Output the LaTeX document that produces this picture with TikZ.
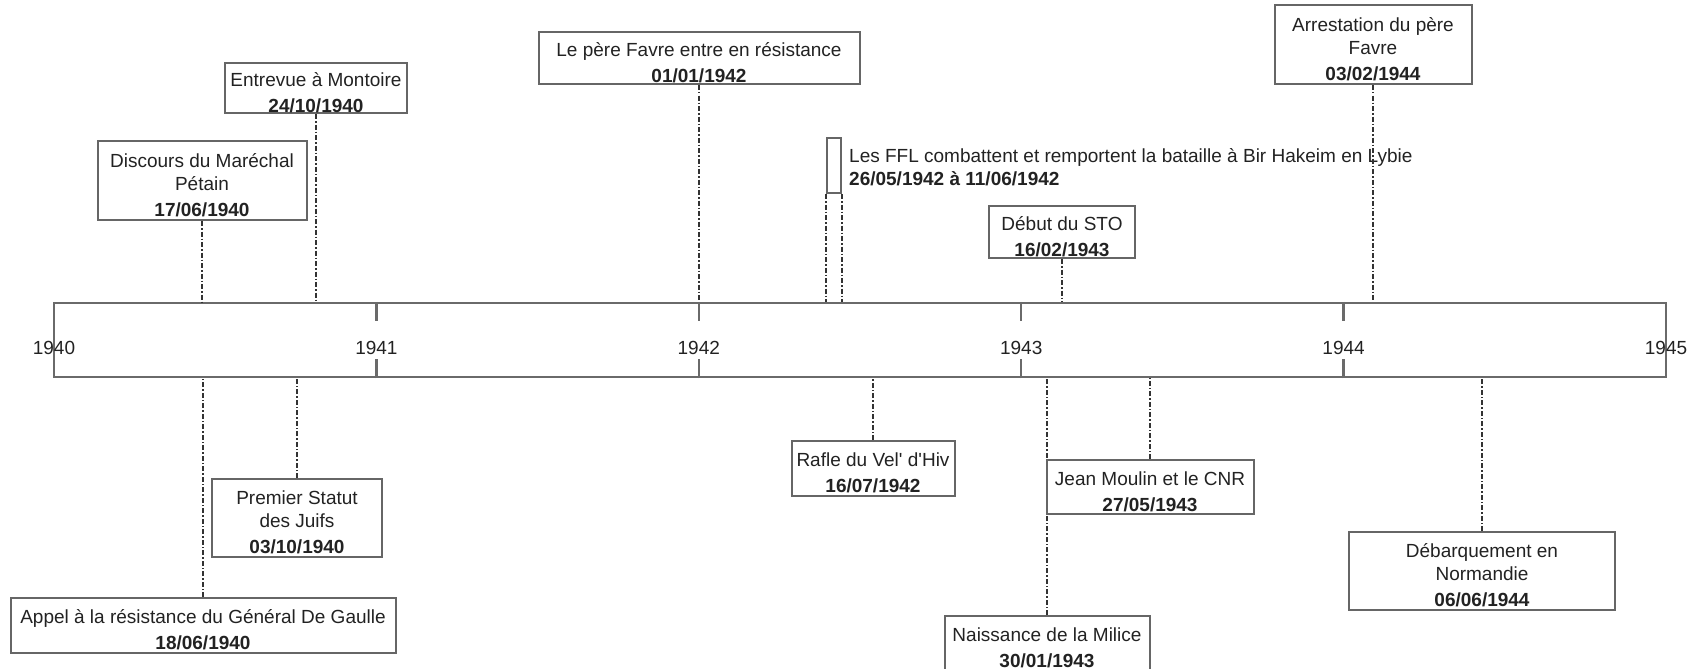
\documentclass[tikz,border=0pt]{standalone}
\usepackage{fontspec}
\setmainfont{Liberation Sans}
\definecolor{boxgray}{HTML}{666666}
\definecolor{axisgray}{HTML}{6A6A6A}
\definecolor{linkdark}{HTML}{333333}
\definecolor{txtdark}{HTML}{222222}
\newcommand\evfont{\fontsize{19pt}{23pt}\selectfont}
\newcommand\evstrut{\rule{0pt}{23pt}}
\tikzset{
  event/.style={draw=boxgray, line width=2pt, align=center, inner xsep=2pt, inner ysep=0pt,
    text=txtdark, font=\evfont},
  link/.style={linkdark, line width=1.5pt, dash pattern=on 5pt off 2pt on 1.5pt off 2pt},
  yeartick/.style={axisgray, line width=2.5pt},
  yearlbl/.style={text=txtdark, font=\evfont, inner sep=0pt}
}

\begin{document}
\begin{tikzpicture}[x=1pt, y=-1pt]
\useasboundingbox (0,0) rectangle (1698,669);

% time axis
\node[draw=axisgray, line width=2.5pt, minimum width=1612pt, minimum height=74pt, inner sep=0pt] (axis) at (860,340) {};
\foreach \yr [count=\i from 0] in {1940,...,1945}
  \node[yearlbl] (y\yr) at (54+322.4*\i,348) {\yr};
\foreach \yr in {1941,...,1944} {
  \draw[yeartick] (y\yr |- axis.north) -- ++(0,19);
  \draw[yeartick] (y\yr |- axis.south) -- ++(0,-19);
}

% ---- events above the axis ----
\node[event, minimum width=209pt, minimum height=79pt] (discours) at (202,180.5)
  {\evstrut Discours du Maréchal\\Pétain\\[3pt]\textbf{17/06/1940}};
\draw[link] (discours.south) -- (discours.south |- axis.north);

\node[event, minimum width=182pt, minimum height=50pt] (montoire) at (316,88)
  {\evstrut Entrevue à Montoire\\[3pt]\textbf{24/10/1940}};
\draw[link] (montoire.south) -- (montoire.south |- axis.north);

\node[event, minimum width=321pt, minimum height=52pt] (favre) at (699,58)
  {\evstrut Le père Favre entre en résistance\\[3pt]\textbf{01/01/1942}};
\draw[link] (favre.south) -- (favre.south |- axis.north);

\node[draw=boxgray, line width=2pt, inner sep=0pt, minimum width=14pt, minimum height=55pt] (ffl) at (834,165.5) {};
\node[anchor=west, align=left, text=txtdark, font=\evfont, inner sep=0pt] (ffltxt) at (849,167)
  {Les FFL combattent et remportent la bataille à Bir Hakeim en Lybie\\\textbf{26/05/1942 à 11/06/1942}};
\draw[link] (ffl.south west) -- (ffl.south west |- axis.north);
\draw[link] (ffl.south east) -- (ffl.south east |- axis.north);

\node[event, minimum width=146pt, minimum height=52pt] (sto) at (1062,232)
  {\evstrut Début du STO\\[3pt]\textbf{16/02/1943}};
\draw[link] (sto.south) -- (sto.south |- axis.north);

\node[event, minimum width=197pt, minimum height=79pt] (arrest) at (1373,44.5)
  {\evstrut Arrestation du père\\Favre\\[3pt]\textbf{03/02/1944}};
\draw[link] (arrest.south) -- (arrest.south |- axis.north);

% ---- events below the axis ----
\node[event, minimum width=385pt, minimum height=55pt] (appel) at (203,625.5)
  {\evstrut Appel à la résistance du Général De Gaulle\\[3pt]\textbf{18/06/1940}};
\draw[link] (appel.north) -- (appel.north |- axis.south);

\node[event, minimum width=170pt, minimum height=78pt] (statut) at (297,518)
  {\evstrut Premier Statut\\des Juifs\\[3pt]\textbf{03/10/1940}};
\draw[link] (statut.north) -- (statut.north |- axis.south);

\node[event, minimum width=163pt, minimum height=55pt] (rafle) at (873,468.5)
  {\evstrut Rafle du Vel\textquotesingle{} d\textquotesingle Hiv\\[3pt]\textbf{16/07/1942}};
\draw[link] (rafle.north) -- (rafle.north |- axis.south);

\node[event, minimum width=205pt, minimum height=55pt] (milice) at (1047,643.5)
  {\evstrut Naissance de la Milice\\[3pt]\textbf{30/01/1943}};
\draw[link] (milice.north) -- (milice.north |- axis.south);

\node[event, minimum width=207pt, minimum height=54pt] (moulin) at (1150,487)
  {\evstrut Jean Moulin et le CNR\\[3pt]\textbf{27/05/1943}};
\draw[link] (moulin.north) -- (moulin.north |- axis.south);

\node[event, minimum width=266pt, minimum height=78pt] (debarq) at (1482,571)
  {\evstrut Débarquement en\\Normandie\\[3pt]\textbf{06/06/1944}};
\draw[link] (debarq.north) -- (debarq.north |- axis.south);

\end{tikzpicture}
\end{document}
